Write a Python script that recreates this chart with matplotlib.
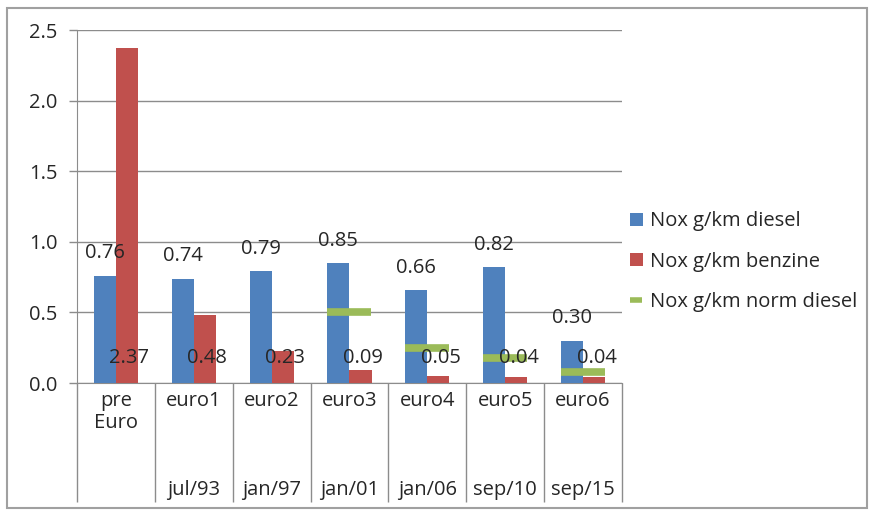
import numpy as np
import matplotlib.pyplot as plt
from matplotlib.patches import Patch, Rectangle
from matplotlib.lines import Line2D

plt.rcParams['font.family'] = ['Open Sans', 'DejaVu Sans']

names = ['pre\nEuro', 'euro1', 'euro2', 'euro3', 'euro4', 'euro5', 'euro6']
dates = ['', 'jul/93', 'jan/97', 'jan/01', 'jan/06', 'sep/10', 'sep/15']
diesel = [0.76, 0.74, 0.79, 0.85, 0.66, 0.82, 0.30]
benzine = [2.37, 0.48, 0.23, 0.09, 0.05, 0.04, 0.04]
norm_diesel = [np.nan, np.nan, np.nan, 0.50, 0.25, 0.18, 0.08]

blue = '#4F81BD'
red = '#C0504D'
green = '#9BBB59'
grid = '#8C8C8C'
txt = '#262626'
fs = 14.5

fig = plt.figure(figsize=(8.71, 5.13), dpi=100)
ax = fig.add_axes([0.0884, 0.2534, 0.6257, 0.6881])

x = np.arange(len(names))
w = 0.284
ax.bar(x - w / 2, diesel, w, color=blue, zorder=3)
ax.bar(x + w / 2, benzine, w, color=red, zorder=3)
ax.plot(x, norm_diesel, linestyle='none', marker='_', markersize=32,
        mew=5.5, color=green, zorder=4)

# value labels
for i in range(len(names)):
    ax.annotate(f'{diesel[i]:.2f}', (x[i] - w / 2, diesel[i]),
                xytext=(0, 16), textcoords='offset points',
                ha='center', va='center', fontsize=fs, color=txt, zorder=5)
    ax.text(x[i] + w / 2 + 0.03, 0.18, f'{benzine[i]:.2f}', ha='center',
            va='center', fontsize=fs, color=txt, zorder=5)

ax.set_xlim(-0.5, len(names) - 0.5)
ax.set_ylim(0, 2.5)
ax.set_yticks(np.arange(0, 2.51, 0.5))
ax.set_yticklabels([f'{v:.1f}' for v in np.arange(0, 2.51, 0.5)],
                   fontsize=fs, color=txt)
ax.yaxis.grid(True, color=grid, linewidth=1, zorder=0)
ax.tick_params(axis='y', length=6, color=grid, width=1, pad=8)

# category table below the axis
ax.set_xticks(x)
ax.set_xticklabels([])
ax.tick_params(axis='x', which='major', length=0)
ax.set_xticks(np.arange(-0.5, len(names), 1.0), minor=True)
ax.tick_params(axis='x', which='minor', length=86, color=grid, width=1)
trans = ax.get_xaxis_transform()
for i in range(len(names)):
    ax.text(x[i], -0.022, names[i], transform=trans, ha='center', va='top',
            fontsize=fs, color=txt, linespacing=1.15)
    ax.text(x[i], -0.303, dates[i], transform=trans, ha='center',
            va='center', fontsize=fs, color=txt)

for s in ['top', 'right']:
    ax.spines[s].set_visible(False)
for s in ['left', 'bottom']:
    ax.spines[s].set_color(grid)

handles = [Patch(facecolor=blue), Patch(facecolor=red),
           Line2D([], [], color=green, marker='_', markersize=9, mew=4,
                  linestyle='none')]
labels = ['Nox g/km diesel', 'Nox g/km benzine', 'Nox g/km norm diesel']
fig.legend(handles, labels, loc='center left', bbox_to_anchor=(0.703, 0.49),
           frameon=False, fontsize=fs, handlelength=0.6, handleheight=0.6,
           handletextpad=0.35, labelspacing=1.0, labelcolor=txt)

fig.patches.append(Rectangle((7 / 871, 5 / 513), 860 / 871, 500 / 513,
                             transform=fig.transFigure, fill=False,
                             edgecolor='#A0A0A0', linewidth=1.5))

fig.savefig('out.png', dpi=100)
